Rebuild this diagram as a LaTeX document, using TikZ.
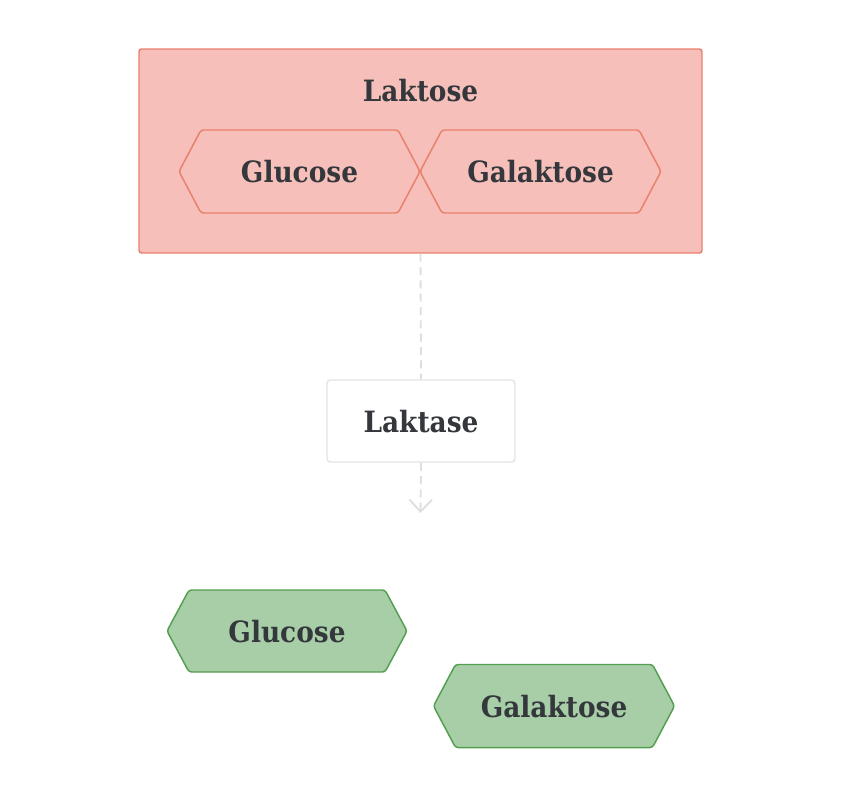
\documentclass[tikz,border=0pt]{standalone}
\usepackage{fontspec}
\setmainfont{DejaVu Serif Condensed}
\usetikzlibrary{arrows.meta}
\definecolor{redfill}{RGB}{246,191,186}
\definecolor{redline}{RGB}{233,128,107}
\definecolor{greenfill}{RGB}{168,206,167}
\definecolor{greenline}{RGB}{84,158,80}
\definecolor{txt}{RGB}{52,56,60}
\definecolor{greyline}{RGB}{228,228,228}
\definecolor{dashcol}{RGB}{222,222,222}
\tikzset{
  lbl/.style={font=\fontsize{22}{26}\selectfont\bfseries, text=txt, inner sep=0pt},
  outerbox/.style={draw=redline, fill=redfill, line width=1.1pt, rounded corners=2pt, inner sep=0pt},
  enzbox/.style={draw=greyline, fill=white, line width=1.1pt, rounded corners=2.5pt, inner sep=0pt},
  redhex/.style={draw=redline, fill=redfill, line width=1.1pt, rounded corners=2pt},
  greenhex/.style={draw=greenline, fill=greenfill, line width=1.1pt, rounded corners=2pt},
  conn/.style={draw=dashcol, line width=1.4pt, dash pattern=on 6pt off 4pt},
}
\newcommand{\hexa}[5]{% style, cx, cy, halfw, halfh
  \path[#1] (#2-#4,#3) -- (#2-#4+22,#3-#5) -- (#2+#4-22,#3-#5) -- (#2+#4,#3)
    -- (#2+#4-22,#3+#5) -- (#2-#4+22,#3+#5) -- cycle;}
\begin{document}
\begin{tikzpicture}[x=0.75pt, y=-0.75pt]
\useasboundingbox (0,0) rectangle (841,797);
% Laktose outer box
\node[outerbox, minimum width=422.25pt, minimum height=153pt] (lak) at (420.5,151) {};
\node[lbl] (laktitle) at (420.5,91) {Laktose};
\hexa{redhex}{299.5}{171.5}{120.5}{41.5}
\hexa{redhex}{540.5}{171.5}{120.5}{41.5}
\node[lbl] (glu1) at (299.5,172) {Glucose};
\node[lbl] (gal1) at (540.5,172) {Galaktose};
% Laktase
\node[enzbox, minimum width=141pt, minimum height=61.5pt] (lkt) at (421,421) {};
\node[lbl] (lkttext) at (421,422) {Laktase};
\coordinate (tip) at (420.5,513);
\draw[conn] (lak.south) -- (lkt.north);
\draw[conn, -{Straight Barb[length=9pt,width=17pt,line width=1.4pt]}] (lkt.south) -- (tip);
% Products
\hexa{greenhex}{287}{631}{120}{41}
\hexa{greenhex}{554}{706}{120.5}{41.5}
\node[lbl] (glu2) at (287,631.5) {Glucose};
\node[lbl] (gal2) at (554,706.5) {Galaktose};
\end{tikzpicture}
\end{document}
